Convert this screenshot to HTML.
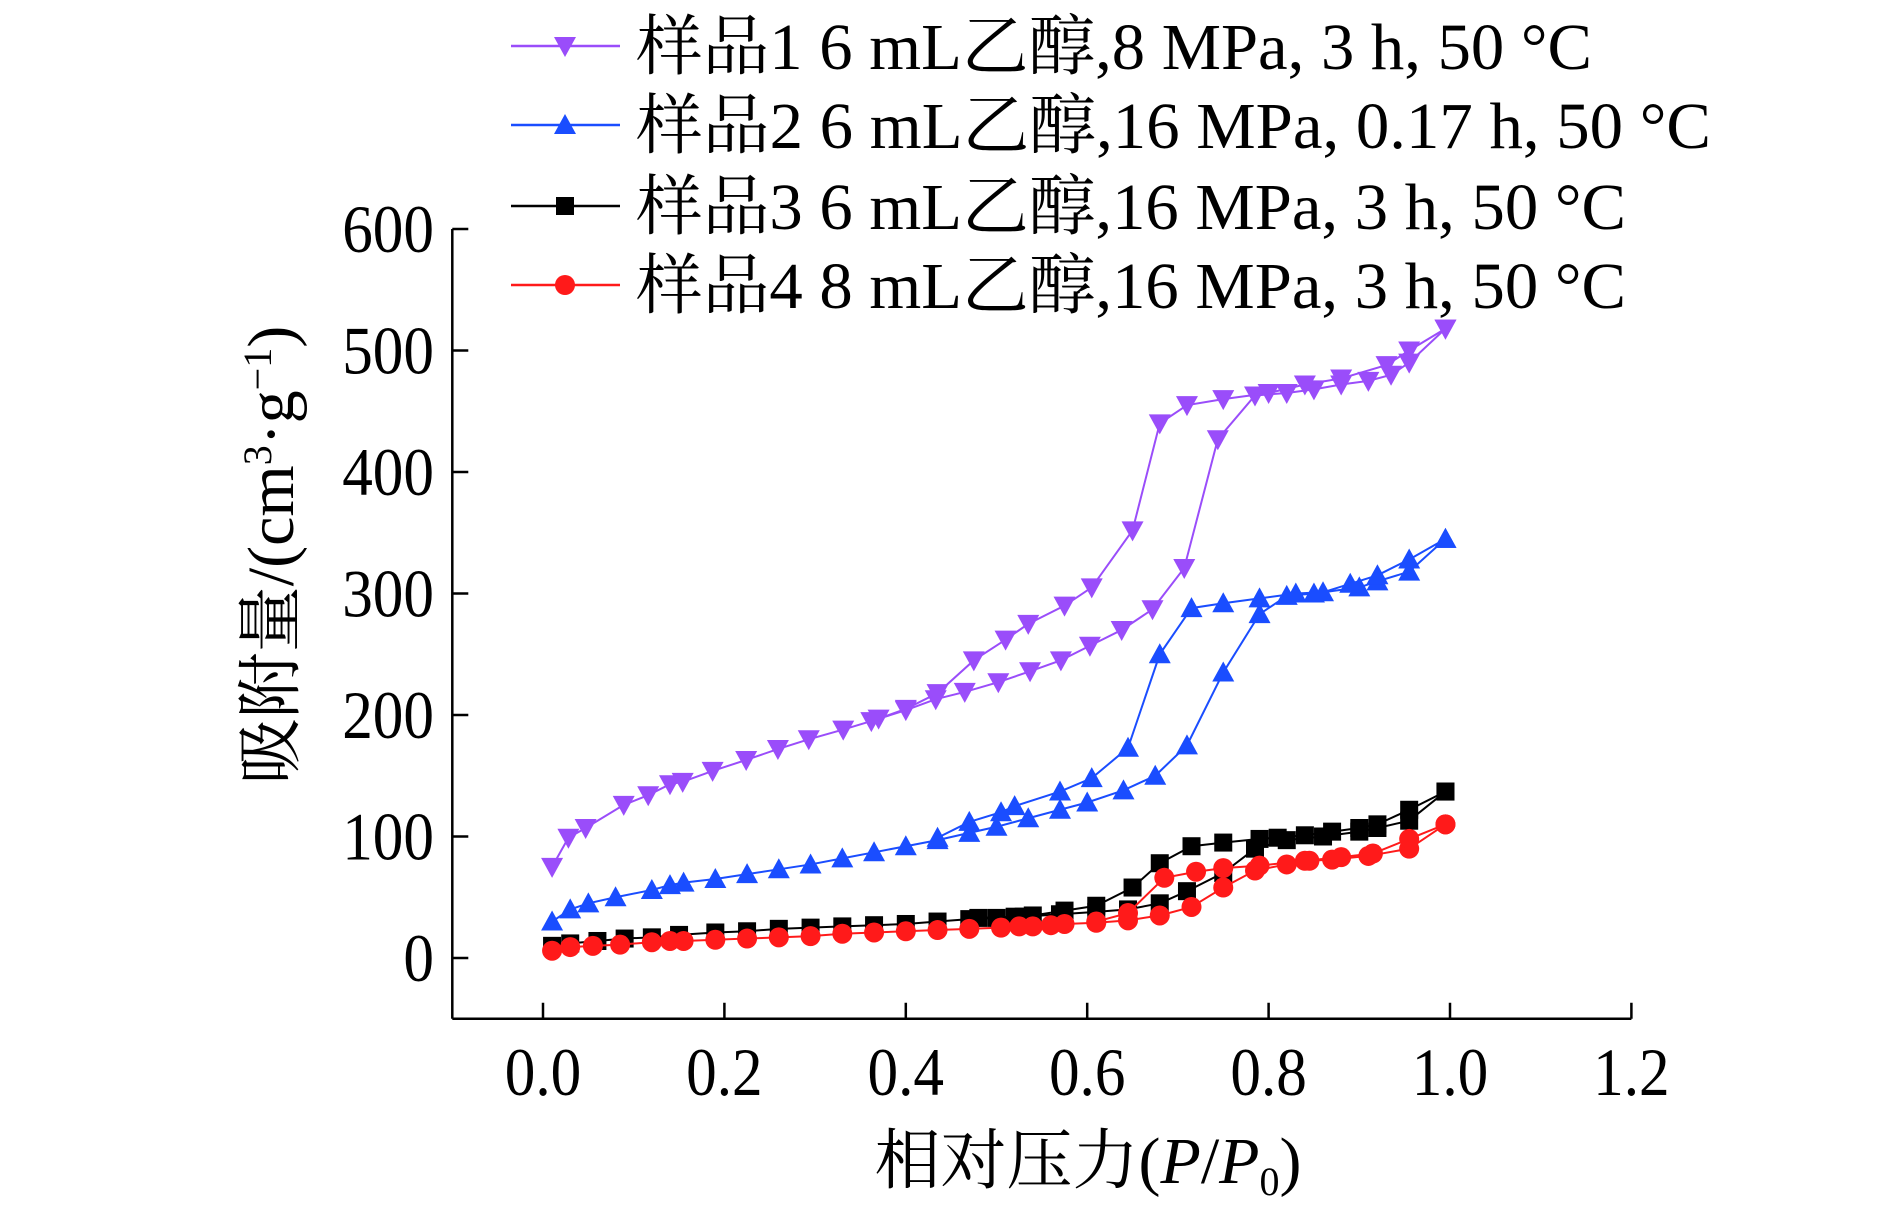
<!DOCTYPE html>
<html><head><meta charset="utf-8"><style>
html,body{margin:0;padding:0;background:#fff;}
svg{display:block;}
text{font-family:"Liberation Serif","Noto Serif CJK SC","Noto Sans CJK SC",serif;fill:#000;}
</style></head><body>
<svg id="chart" width="1890" height="1210" viewBox="0 0 1890 1210" xmlns="http://www.w3.org/2000/svg">
<g id="axes"></g>
<g id="series"></g>
<g id="legend"></g>
<text x="1088" y="1183" font-size="66" text-anchor="middle">相对压力(<tspan font-style="italic">P</tspan>/<tspan font-style="italic">P</tspan><tspan font-size="40" dy="12">0</tspan><tspan dy="-12">)</tspan></text>
<text transform="translate(293,555) rotate(-90)" font-size="66" text-anchor="middle">吸附量/(cm<tspan font-size="40" dy="-22">3</tspan><tspan dy="22">·g</tspan><tspan font-size="40" dy="-22">−1</tspan><tspan dy="22">)</tspan></text>
</svg>
<script>
const xTicks=[0.0,0.2,0.4,0.6,0.8,1.0,1.2];
const xTickLabels=["0.0","0.2","0.4","0.6","0.8","1.0","1.2"];
const yTicks=[0,100,200,300,400,500,600];
const yTickLabels=["0","100","200","300","400","500","600"];
const seriesNames=["样品1 6 mL乙醇,8 MPa, 3 h, 50 °C","样品2 6 mL乙醇,16 MPa, 0.17 h, 50 °C","样品3 6 mL乙醇,16 MPa, 3 h, 50 °C","样品4 8 mL乙醇,16 MPa, 3 h, 50 °C"];
const s1AdsX=[0.01,0.028,0.047,0.089,0.116,0.14,0.154,0.187,0.224,0.259,0.293,0.331,0.362,0.4,0.433,0.465,0.502,0.537,0.571,0.603,0.638,0.672,0.707,0.744,0.785,0.82,0.85,0.88,0.91,0.935,0.955,0.995];
const s1AdsY=[75,99,107,126,134,143,145,154,163,172,180,188,195,204,213,219,227,236,245,257,270,287,321,427,463,465,468,472,475,480,490,518];
const s1DesX=[0.995,0.955,0.93,0.88,0.84,0.8,0.75,0.71,0.68,0.65,0.605,0.575,0.535,0.51,0.475,0.435,0.4,0.37];
const s1DesY=[518,500,488,477,472,465,460,455,440,352,305,290,275,262,245,218,205,197];
const s2AdsX=[0.01,0.03,0.05,0.08,0.12,0.14,0.155,0.19,0.225,0.26,0.295,0.33,0.365,0.4,0.435,0.47,0.5,0.535,0.57,0.6,0.64,0.675,0.71,0.75,0.79,0.82,0.85,0.9,0.92,0.955,0.995];
const s2AdsY=[30,40,45,50,56,60,62,65,69,73,77,82,87,92,97,103,108,115,122,128,138,150,175,235,283,298,300,305,310,318,345];
const s2DesX=[0.995,0.955,0.92,0.89,0.86,0.83,0.79,0.75,0.715,0.68,0.645,0.605,0.57,0.52,0.505,0.47,0.435];
const s2DesY=[345,328,315,308,301,300,296,292,288,250,173,148,137,125,120,112,99];
const s3AdsX=[0.01,0.03,0.06,0.09,0.12,0.15,0.19,0.225,0.26,0.295,0.33,0.365,0.4,0.435,0.47,0.5,0.53,0.57,0.61,0.645,0.68,0.71,0.75,0.785,0.82,0.86,0.9,0.92,0.955,0.995];
const s3AdsY=[10,12,14,16,17,19,21,22,24,25,26,27,28,30,32,33,34,36,38,40,45,55,70,90,97,100,104,107,113,137];
const s3DesX=[0.995,0.955,0.92,0.9,0.87,0.84,0.81,0.79,0.75,0.715,0.68,0.65,0.61,0.575,0.54,0.52,0.48];
const s3DesY=[137,122,110,107,104,101,99,98,95,92,78,58,43,39,35,34,33];
const s4AdsX=[0.01,0.03,0.055,0.085,0.12,0.14,0.155,0.19,0.225,0.26,0.295,0.33,0.365,0.4,0.435,0.47,0.505,0.525,0.54,0.56,0.575,0.61,0.645,0.68,0.715,0.75,0.785,0.82,0.845,0.87,0.91,0.955,0.995];
const s4AdsY=[6,9,10,11,13,14,14,15,16,17,18,20,21,22,23,24,25,26,26,27,28,29,31,35,42,58,72,77,80,81,84,90,110];
const s4DesX=[0.995,0.955,0.915,0.88,0.84,0.79,0.75,0.72,0.685,0.645,0.61];
const s4DesY=[110,98,86,83,80,76,74,71,66,37,30];

const NS="http://www.w3.org/2000/svg";
const X0=543, XS=907, Y0=958, YS=1.215;
function X(v){return X0+v*XS;}
function Y(v){return Y0-v*YS;}
function mk(tag,attrs,parent){const e=document.createElementNS(NS,tag);for(const k in attrs)e.setAttribute(k,attrs[k]);parent.appendChild(e);return e;}
const axes=document.getElementById('axes');
const xMin=-0.1,xMax=1.2,yMin=-50,yMax=600;
let el;
el=mk('line',{x1:X(xMin),y1:Y(yMin),x2:X(xMax),y2:Y(yMin),stroke:'#000','stroke-width':2.5},axes);


el=mk('line',{x1:X(xMin),y1:Y(yMin),x2:X(xMin),y2:Y(yMax),stroke:'#000','stroke-width':2.5},axes);


xTicks.forEach((t,i)=>{
  el=mk('line',{x1:X(t),y1:Y(yMin),x2:X(t),y2:Y(yMin)-16,stroke:'#000','stroke-width':2.5},axes);
  
  
  el=mk('text',{x:X(t),y:1095,'font-size':68,'text-anchor':'middle',transform:`translate(${X(t)},0) scale(0.9,1) translate(${-X(t)},0)`},axes);
  el.textContent=xTickLabels[i];
  
  
});
yTicks.forEach((t,i)=>{
  el=mk('line',{x1:X(xMin),y1:Y(t),x2:X(xMin)+16,y2:Y(t),stroke:'#000','stroke-width':2.5},axes);
  
  
  el=mk('text',{x:434,y:Y(t)+23,'font-size':68,'text-anchor':'end',transform:`translate(434,0) scale(0.9,1) translate(-434,0)`},axes);
  el.textContent=yTickLabels[i];
  
  
});
function marker(type,cx,cy,color,parent){
  let m;
  if(type==='down') m=mk('polygon',{points:`${cx-11},${cy-9} ${cx+11},${cy-9} ${cx},${cy+11}`,fill:color},parent);
  else if(type==='up') m=mk('polygon',{points:`${cx-11},${cy+9} ${cx+11},${cy+9} ${cx},${cy-11}`,fill:color},parent);
  else if(type==='square') m=mk('rect',{x:cx-9,y:cy-9,width:18,height:18,fill:color},parent);
  else m=mk('circle',{cx:cx,cy:cy,r:10,fill:color},parent);
  return m;
}
const ser=document.getElementById('series');
const defs=[
 {name:'sample1',color:'#9a4dfa',type:'down',branches:[[s1AdsX,s1AdsY],[s1DesX,s1DesY]]},
 {name:'sample2',color:'#1a4dff',type:'up',branches:[[s2AdsX,s2AdsY],[s2DesX,s2DesY]]},
 {name:'sample3',color:'#000000',type:'square',branches:[[s3AdsX,s3AdsY],[s3DesX,s3DesY]]},
 {name:'sample4',color:'#ff1a1a',type:'circle',branches:[[s4AdsX,s4AdsY],[s4DesX,s4DesY]]}
];
defs.forEach((d)=>{
  d.branches.forEach((b,bi)=>{
    const pts=b[0].map((x,i)=>X(x)+','+Y(b[1][i])).join(' ');
    el=mk('polyline',{points:pts,fill:'none',stroke:d.color,'stroke-width':2},ser);
    
    
    b[0].forEach((x,i)=>{
      el=marker(d.type,X(x),Y(b[1][i]),d.color,ser);
      
      
    });
  });
});
const leg=document.getElementById('legend');
const legY=[46,125,206,285];
const legEnd=[1592,1711,1626,1626];
defs.forEach((d,i)=>{
  el=mk('line',{x1:511,y1:legY[i],x2:620,y2:legY[i],stroke:d.color,'stroke-width':2.5},leg);
  
  
  el=marker(d.type,565,legY[i],d.color,leg);
  
  
  el=mk('text',{x:636,y:legY[i]+23,'font-size':66,textLength:legEnd[i]-636,lengthAdjust:'spacingAndGlyphs'},leg);
  el.textContent=seriesNames[i];
  
  
});
</script>
</body></html>
